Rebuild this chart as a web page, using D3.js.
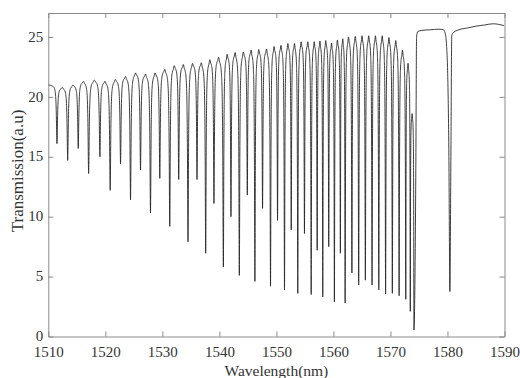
<!DOCTYPE html>
<html>
<head>
<meta charset="utf-8">
<script src="https://cdn.jsdelivr.net/npm/d3@7"></script>
<style>
  body { margin: 0; background: #fff; }
  svg { display: block; }
</style>
</head>
<body>
<svg id="chart" width="520" height="378"></svg>
<script>
// tick labels
const xTicks = [1510, 1520, 1530, 1540, 1550, 1560, 1570, 1580, 1590];
const yTicks = [0, 5, 10, 15, 20, 25];

// comb notches: centre (nm) and bottom value
const dipNm = [1511.52, 1513.40, 1515.25, 1517.07, 1519.05, 1520.85, 1522.67, 1524.42, 1526.17, 1527.92,
  1529.55, 1531.30, 1532.87, 1534.50, 1536.08, 1537.60, 1539.05, 1540.70, 1542.03, 1543.50,
  1544.90, 1546.23, 1547.57, 1548.97, 1550.20, 1551.42, 1552.60, 1553.75, 1554.92, 1556.10,
  1557.15, 1558.13, 1559.18, 1560.17, 1561.22, 1562.05, 1563.24, 1564.43, 1565.60, 1566.77,
  1567.96, 1569.15, 1570.33, 1571.52, 1572.69, 1573.48, 1574.12];
const dipMin = [16.1, 14.7, 15.7, 13.6, 15.0, 12.2, 14.4, 11.4, 13.9, 10.3,
  13.2, 9.2, 13.1, 7.9, 13.1, 6.95, 11.1, 5.8, 10.0, 5.1,
  11.8, 4.6, 10.7, 4.2, 9.7, 3.9, 8.9, 3.6, 8.6, 3.5,
  7.2, 3.3, 7.5, 2.9, 6.95, 2.8, 5.3, 4.3, 4.7, 4.3,
  3.9, 3.55, 3.6, 3.4, 3.1, 2.1, 0.55];
// top level before each notch (first one is the value at 1510 nm)
const peakVal = [21.0, 20.8, 21.0, 21.3, 21.4, 21.3, 21.45, 21.7, 22.0, 21.9,
  22.0, 22.3, 22.6, 22.7, 22.8, 22.85, 23.1, 23.3, 23.55, 23.7,
  23.75, 23.9, 23.95, 24.0, 24.2, 24.3, 24.45, 24.45, 24.6, 24.6,
  24.6, 24.65, 24.7, 24.5, 24.75, 24.85, 25.0, 25.05, 25.1, 25.1,
  25.1, 25.1, 24.95, 24.7, 23.9, 22.8, 18.6];

// flat band after the comb, with the single notch near 1580 nm
const tailNm = [1574.45, 1574.58, 1574.8, 1575.5, 1577.0, 1578.5, 1579.3, 1579.6, 1579.85, 1580.05,
  1580.25, 1580.42, 1580.6, 1580.75, 1581.0, 1582.0, 1583.5, 1585.0, 1586.5, 1588.0, 1589.0, 1589.9];
const tailVal = [14.0, 25.0, 25.45, 25.55, 25.6, 25.65, 25.6, 25.3, 24.2, 21.7,
  15.0, 3.75, 15.0, 25.1, 25.35, 25.6, 25.75, 25.9, 26.0, 26.1, 26.05, 25.95];

const width = 520, height = 378;
const margin = { top: 13, right: 15.5, bottom: 41.5, left: 48.3 };
const axisColor = '#8a8a8a';
const textColor = '#333';
const font = '"Liberation Serif", "DejaVu Serif", serif';

const svg = d3.select('#chart');

const x = d3.scaleLinear()
  .domain([1510, 1590])
  .range([margin.left, width - margin.right]);

const y = d3.scaleLinear()
  .domain([0, 27])
  .range([height - margin.bottom, margin.top]);

// notch profile: lorentzian-like shoulders so the dips are narrow and the tops round
const fracs = [0.4, 0.3, 0.2, 0.12, 0.06, 0.02];
const notchWidth = 0.06;
function shoulder(top, bottom, f) {
  return top - (top - bottom) / (1 + (f / notchWidth) ** 2);
}

const pts = [[1510, peakVal[0]]];
dipNm.forEach((d, i) => {
  const last = i === dipNm.length - 1;
  const gL = i > 0 ? d - dipNm[i - 1] : dipNm[1] - dipNm[0];
  const gR = last ? gL : dipNm[i + 1] - d;
  if (i > 0) pts.push([(dipNm[i - 1] + d) / 2, peakVal[i]]);
  fracs.forEach(f => pts.push([d - f * gL, shoulder(peakVal[i], dipMin[i], f)]));
  pts.push([d, dipMin[i]]);
  if (!last) {
    fracs.slice().reverse().forEach(f => pts.push([d + f * gR, shoulder(peakVal[i + 1], dipMin[i], f)]));
  }
});
tailNm.forEach((t, i) => pts.push([t, tailVal[i]]));

const line = d3.line()
  .x(d => x(d[0]))
  .y(d => y(d[1]))
  .curve(d3.curveMonotoneX);

svg.append('path')
  .datum(pts)
  .attr('fill', 'none')
  .attr('stroke', '#1e1e1e')
  .attr('stroke-width', 0.85)
  .attr('stroke-linejoin', 'round')
  .attr('d', line);

// box with inward ticks
const bottomAxis = svg.append('g')
  .attr('transform', `translate(0,${height - margin.bottom})`)
  .call(d3.axisBottom(x).tickValues(xTicks).tickFormat(d3.format('d'))
    .tickSizeInner(-5).tickSizeOuter(0).tickPadding(10.2));

const topAxis = svg.append('g')
  .attr('transform', `translate(0,${margin.top})`)
  .call(d3.axisTop(x).tickValues(xTicks).tickFormat('')
    .tickSizeInner(-5).tickSizeOuter(0));

const leftAxis = svg.append('g')
  .attr('transform', `translate(${margin.left},0)`)
  .call(d3.axisLeft(y).tickValues(yTicks)
    .tickSizeInner(-5).tickSizeOuter(0).tickPadding(5));

const rightAxis = svg.append('g')
  .attr('transform', `translate(${width - margin.right},0)`)
  .call(d3.axisRight(y).tickValues(yTicks).tickFormat('')
    .tickSizeInner(-5).tickSizeOuter(0));

[bottomAxis, topAxis, leftAxis, rightAxis].forEach(g => {
  g.select('.domain').attr('stroke', axisColor);
  g.selectAll('.tick line').attr('stroke', axisColor);
  g.selectAll('.tick text')
    .attr('fill', textColor)
    .style('font-family', font)
    .style('font-size', '15px');
});
leftAxis.selectAll('.tick text').attr('dy', '0.28em');

svg.append('text')
  .attr('x', (margin.left + width - margin.right) / 2)
  .attr('y', 375.5)
  .attr('text-anchor', 'middle')
  .attr('fill', textColor)
  .style('font-family', font)
  .style('font-size', '15.5px')
  .text('Wavelength(nm)');

svg.append('text')
  .attr('transform', 'translate(22.5,171) rotate(-90)')
  .attr('text-anchor', 'middle')
  .attr('fill', textColor)
  .style('font-family', font)
  .style('font-size', '17px')
  .text('Transmission(a.u)');
</script>
</body>
</html>
